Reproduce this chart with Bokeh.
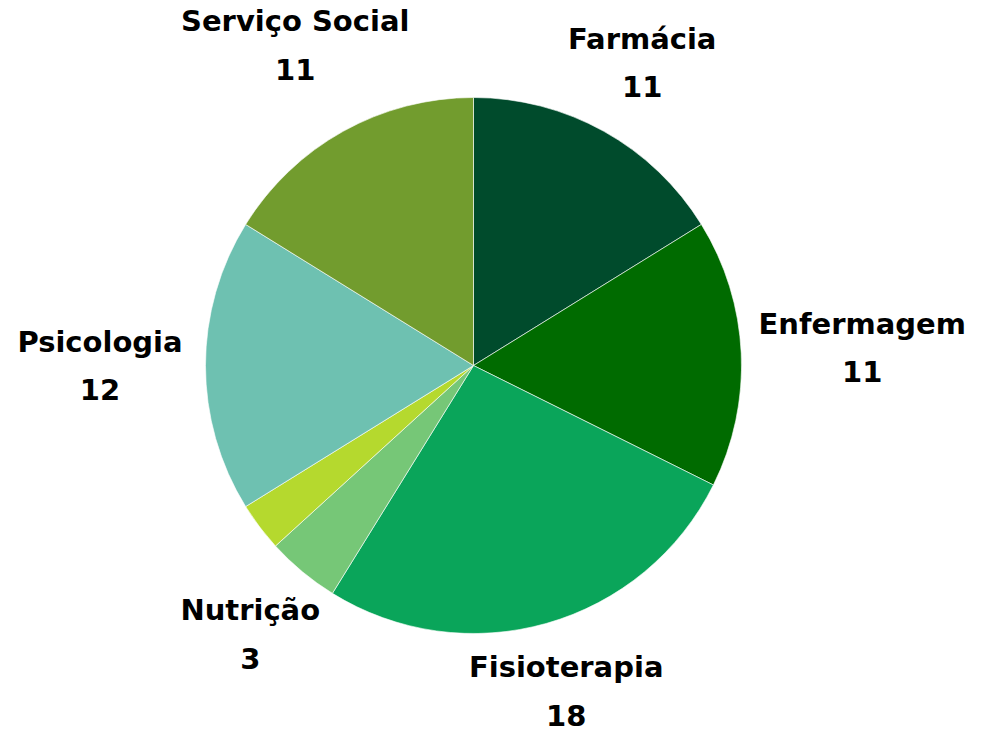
import math
from bokeh.plotting import figure
from bokeh.models import ColumnDataSource
from bokeh.core.properties import value
from bokeh.embed import file_html
from bokeh.resources import INLINE

categories = ["Farmácia", "Enfermagem", "Fisioterapia", "Nutrição", "Outros", "Psicologia", "Serviço Social"]
values = [11, 11, 18, 3, 2, 12, 11]
colors = ["#004B2C", "#006B00", "#0AA55A", "#76C777", "#B5D92E", "#6EC1B1", "#729C2E"]
show_label = [True, True, True, True, False, True, True]

FONT = "DejaVu Sans"
FS = 29
R = 268
GAP_R = 287
HALF_H = 26
LINE_OFF = 24


def est_width(s):
    w = 0
    for ch in s:
        if ch == " ":
            w += 9
        elif ch in "iljtfrI1":
            w += 11
        elif ch in "mw":
            w += 30
        else:
            w += 20
    return w


total = sum(values)
starts, ends = [], []
acc = 0.0
for v in values:
    ts = acc / total * 2 * math.pi
    acc += v
    te = acc / total * 2 * math.pi
    starts.append(math.pi / 2 - ts)
    ends.append(math.pi / 2 - te)

src = ColumnDataSource(dict(start=starts, end=ends, color=colors, cat=categories, val=values))

W, H = 980, 733
cx_px, cy_px = 473, 365
p = figure(width=W, height=H, output_backend="svg", toolbar_location=None,
           x_range=(-cx_px, W - cx_px), y_range=(-(H - cy_px), cy_px),
           min_border=0)
p.axis.visible = False
p.grid.visible = False
p.outline_line_color = None
p.background_fill_color = "white"
p.border_fill_color = "white"

p.wedge(x=0, y=0, radius=R, start_angle="start", end_angle="end", direction="clock",
        fill_color="color", line_color="white", line_width=0.6, source=src)

nx, ny, nt, vt = [], [], [], []
acc = 0.0
for cat, v, show in zip(categories, values, show_label):
    ts = acc / total * 2 * math.pi
    acc += v
    te = acc / total * 2 * math.pi
    if not show:
        continue
    mid = (ts + te) / 2
    ux, uy = math.sin(mid), math.cos(mid)
    hw = est_width(cat) / 2
    t = GAP_R + hw * abs(ux) + HALF_H * abs(uy)
    nx.append(t * ux)
    ny.append(t * uy)
    nt.append(cat)
    vt.append(str(v))

lab = ColumnDataSource(dict(x=nx, yn=[y + LINE_OFF for y in ny], yv=[y - LINE_OFF for y in ny], name=nt, val=vt))
p.text(x="x", y="yn", text="name", source=lab, text_align="center", text_baseline="middle",
       text_font=value(FONT), text_font_style="bold", text_font_size=f"{FS}px", text_color="#000000")
p.text(x="x", y="yv", text="val", source=lab, text_align="center", text_baseline="middle",
       text_font=value(FONT), text_font_style="bold", text_font_size=f"{FS}px", text_color="#000000")

open("out.html", "w").write(file_html(p, INLINE))
